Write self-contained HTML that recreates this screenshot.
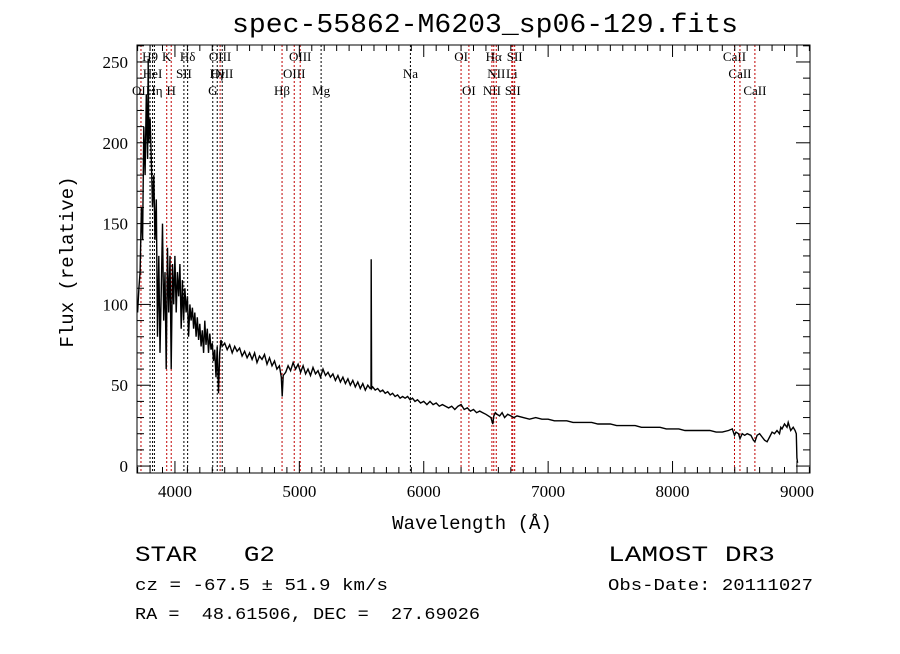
<!DOCTYPE html>
<html><head><meta charset="utf-8"><style>
body{margin:0;background:#fff;width:900px;height:649px;overflow:hidden}
svg text{font-family:"Liberation Serif",serif}
</style></head><body>
<svg id="chart" width="900" height="649" xmlns="http://www.w3.org/2000/svg">
<text x="232" y="32" textLength="506" lengthAdjust="spacingAndGlyphs" font-size="27" style="font-family:'Liberation Mono',monospace">spec-55862-M6203_sp06-129.fits</text>
<g id="lines"></g>
<g id="spec"></g>
<rect x="137" y="45" width="673" height="428" fill="none" stroke="#000" stroke-width="1"/>
<g id="axes"></g>
<text x="472" y="529" text-anchor="middle" font-size="19" style="font-family:'Liberation Mono',monospace">Wavelength (Å)</text>
<text transform="translate(73,262) rotate(-90)" text-anchor="middle" font-size="19" style="font-family:'Liberation Mono',monospace">Flux (relative)</text>
<text x="135" y="561" textLength="140" lengthAdjust="spacingAndGlyphs" font-size="22" style="font-family:'Liberation Mono',monospace;white-space:pre" xml:space="preserve">STAR   G2</text>
<text x="608" y="561" textLength="167" lengthAdjust="spacingAndGlyphs" font-size="22" style="font-family:'Liberation Mono',monospace">LAMOST DR3</text>
<text x="135" y="590" textLength="253" lengthAdjust="spacingAndGlyphs" font-size="17" style="font-family:'Liberation Mono',monospace">cz = -67.5 ± 51.9 km/s</text>
<text x="608" y="590" textLength="205" lengthAdjust="spacingAndGlyphs" font-size="17" style="font-family:'Liberation Mono',monospace">Obs-Date: 20111027</text>
<text x="135" y="619" textLength="345" lengthAdjust="spacingAndGlyphs" font-size="17" style="font-family:'Liberation Mono',monospace;white-space:pre" xml:space="preserve">RA =  48.61506, DEC =  27.69026</text>
</svg>
<script>
const wave=[
3700,3710,3720,3730,3740,3750,3760,3770,3780,3785,
3790,3800,3810,3820,3830,3840,3850,3860,3870,3880,
3890,3900,3910,3920,3930,3940,3950,3960,3970,3980,
3990,4000,4010,4020,4030,4040,4050,4060,4070,4080,
4090,4100,4110,4120,4130,4140,4150,4160,4170,4180,
4190,4200,4210,4220,4230,4240,4250,4260,4270,4280,
4290,4300,4310,4320,4330,4340,4350,4360,4370,4380,
4400,4420,4440,4460,4480,4500,4520,4540,4560,4580,
4600,4620,4640,4660,4680,4700,4720,4740,4760,4780,
4800,4820,4840,4855,4862,4870,4890,4910,4930,4950,
4970,4990,5010,5030,5050,5070,5090,5110,5130,5150,
5170,5190,5210,5230,5250,5270,5290,5310,5330,5350,
5370,5390,5410,5430,5450,5470,5490,5510,5530,5550,
5570,5576,5578,5581,5590,5610,5630,5650,5670,5690,
5710,5730,5750,5770,5790,5810,5830,5850,5870,5890,
5910,5930,5950,5975,6000,6025,6050,6075,6100,6125,
6150,6175,6200,6225,6250,6275,6300,6325,6350,6375,
6400,6425,6450,6475,6500,6520,6540,6555,6563,6575,
6590,6610,6630,6650,6675,6700,6725,6750,6800,6850,
6900,6950,7000,7050,7100,7150,7200,7250,7300,7350,
7400,7450,7500,7550,7600,7650,7700,7750,7800,7850,
7900,7950,8000,8050,8100,8150,8200,8250,8300,8350,
8400,8450,8480,8498,8510,8530,8542,8560,8580,8600,
8630,8650,8662,8680,8700,8720,8740,8760,8780,8800,
8820,8840,8860,8870,8880,8900,8920,8930,8950,8970,
8985,8995,9000,9005];
const flux=[
95,110,120,160,140,210,180,230,190,252,
200,215,190,160,180,140,165,80,130,70,
110,150,90,120,60,135,95,130,60,125,
100,130,95,120,105,125,85,115,90,110,
95,105,80,100,90,98,85,95,80,92,
78,88,74,84,70,90,75,85,70,82,
72,76,65,72,55,74,45,70,78,74,
76,72,75,70,74,71,73,68,71,67,
70,66,70,64,68,66,69,63,67,62,
65,60,62,55,43,56,58,62,59,64,
60,63,58,62,57,60,56,61,57,59,
55,60,56,58,55,57,53,56,52,55,
51,54,50,53,49,52,48,51,47,50,
48,48,128,48,49,47,48,46,47,45,
46,44,45,43,44,42,43,42,43,41,
42,40,41,39,40,38,40,38,39,37,
38,37,36,37,35,37,38,35,36,34,
35,33,34,33,32,31,30,26,31,33,
32,31,33,30,32,31,30,31,30,29,
30,29,29,28,28,28,27,27,27,27,
26,26,26,25,25,25,25,24,24,24,
24,23,23,23,22,22,22,22,22,21,
21,22,23,19,21,20,17,20,19,20,
19,16,15,19,20,18,16,15,18,21,
20,22,20,24,23,26,24,27,22,24,
22,20,5,2];
const lineNames=["OII","H9","HeI","Hη","K","H","SII","Hδ","G","Hγ","OIII","OIII","Hβ","OIII","OIII","Mg","Na","OI","OI","NII","Hα","NII","SII","Li","SII","CaII","CaII","CaII"];
const lineWaves=[3727,3800,3820,3835,3934,3970,4072,4102,4304,4340,4363,4380,4861,4959,5007,5175,5893,6300,6363,6548,6563,6583,6716,6708,6731,8498,8542,8662];
const lineRows=[3,1,2,3,1,3,2,1,3,2,1,2,3,2,1,3,2,1,3,3,1,2,3,2,1,1,2,3];
const lineRed=[1,0,0,0,1,1,0,0,0,0,1,0,1,1,1,0,0,1,1,1,1,1,1,1,1,1,1,1];
const xTicks=[4000,5000,6000,7000,8000,9000];
const yTicks=[0,50,100,150,200,250];

const X0=137,X1=810,Y0=473,Y1=45;
const xmin=3695,xmax=9105,ymin=-4.3,ymax=260.5;
const xs=w=>X0+(w-xmin)/(xmax-xmin)*(X1-X0);
const ys=f=>Y0-(f-ymin)/(ymax-ymin)*(Y0-Y1);
const NS="http://www.w3.org/2000/svg";
function mk(t,a,p){const e=document.createElementNS(NS,t);for(const k in a)e.setAttribute(k,a[k]);p.appendChild(e);return e;}
const L=document.getElementById('lines'),S=document.getElementById('spec'),A=document.getElementById('axes');
const rowY=[0,61,78,95];
lineWaves.forEach((w,i)=>{
  const x=xs(w);
  const ln=mk('line',{x1:x,x2:x,y1:Y1,y2:Y0,stroke:lineRed[i]?'#c00000':'#000','stroke-width':1,'stroke-dasharray':'2,2'},L);
  
  
  const t=mk('text',{x:x,y:rowY[lineRows[i]],'text-anchor':'middle','font-size':13},L);
  t.textContent=lineNames[i];
  
  
});
let d='';
const n=Math.min(wave.length,flux.length);
for(let i=0;i<n;i++){d+=(i?'L':'M')+xs(wave[i]).toFixed(1)+','+ys(flux[i]).toFixed(1);}
const p=mk('path',{d:d,fill:'none',stroke:'#000','stroke-width':1.4},S);


for(let w=3700;w<=9100;w+=100){
  const x=xs(w),big=w%1000===0,h=big?12:6;
  mk('line',{x1:x,x2:x,y1:Y0,y2:Y0-h,stroke:'#000'},A);
  mk('line',{x1:x,x2:x,y1:Y1,y2:Y1+h,stroke:'#000'},A);
}
xTicks.forEach(w=>{const t=mk('text',{x:xs(w),y:497,'text-anchor':'middle','font-size':17},A);t.textContent=w;
  
  });
for(let f=0;f<=260;f+=10){
  const y=ys(f),big=f%50===0,h=big?14:7;
  mk('line',{x1:X0,x2:X0+h,y1:y,y2:y,stroke:'#000'},A);
  mk('line',{x1:X1,x2:X1-h,y1:y,y2:y,stroke:'#000'},A);
}
yTicks.forEach(f=>{const t=mk('text',{x:128,y:ys(f)+6,'text-anchor':'end','font-size':17},A);t.textContent=f;
  
  });
</script>
</body></html>
